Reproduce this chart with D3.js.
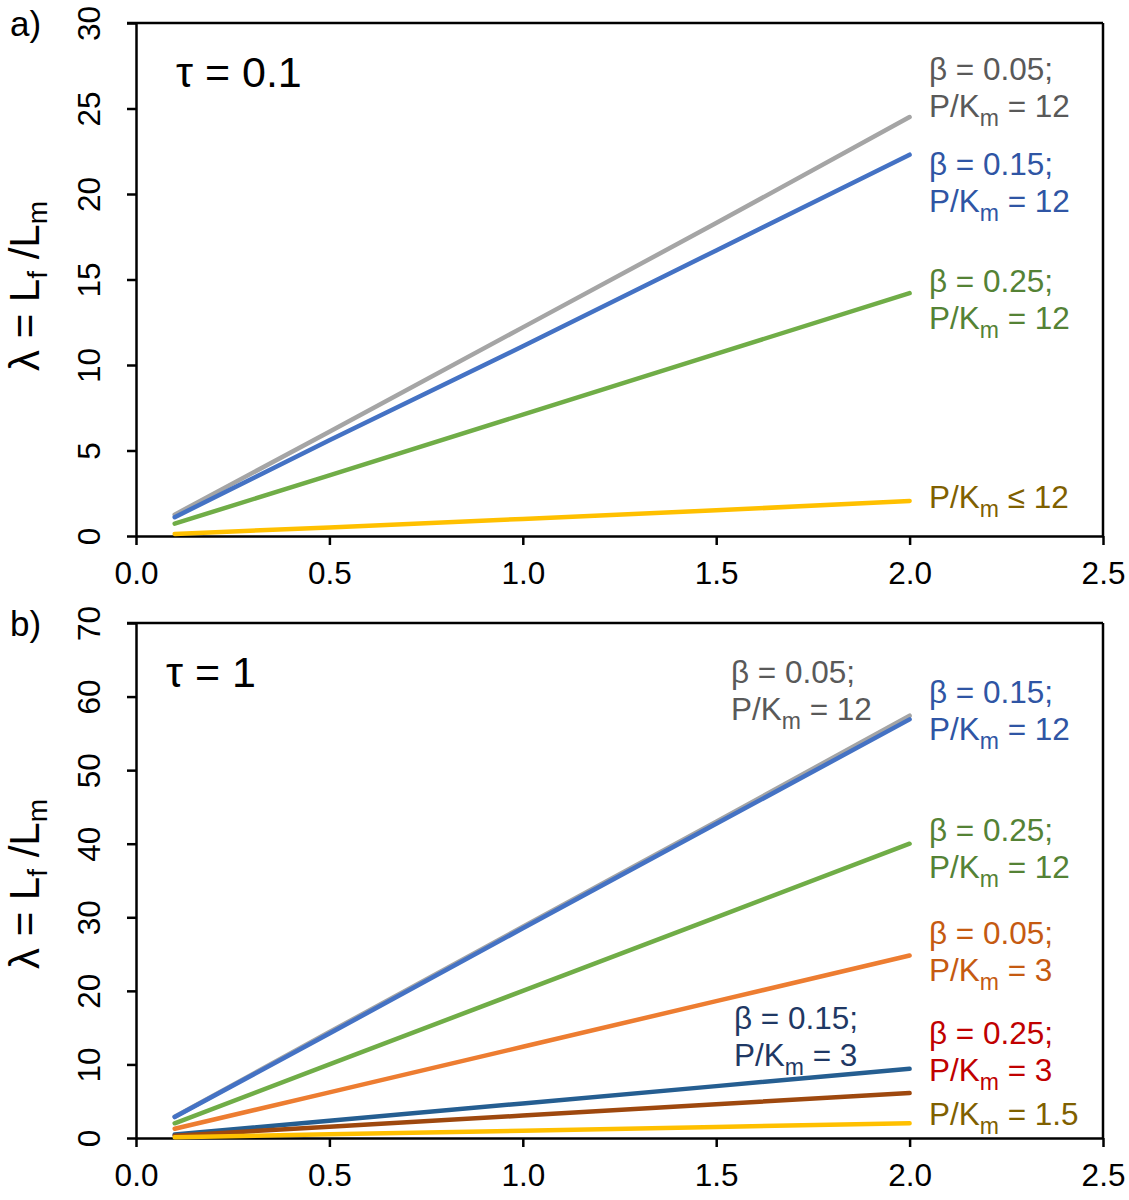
<!DOCTYPE html>
<html><head><meta charset="utf-8">
<script src="https://cdn.jsdelivr.net/npm/d3@7"></script>
<style>body{margin:0;background:#fff}svg{display:block;font-family:"Liberation Sans",Arial,sans-serif}</style>
</head><body><svg id="c" width="1129" height="1200"></svg>
<script>
// ---- data ----
const xTicks = [0.0, 0.5, 1.0, 1.5, 2.0, 2.5];
const xs = [0.1, 0.5, 1.0, 1.5, 2.0];
const yTicksA = [0, 5, 10, 15, 20, 25, 30];
const yTicksB = [0, 10, 20, 30, 40, 50, 60, 70];
// panel a (tau = 0.1)
const a_b005_pk12 = [1.25, 6.1, 12.2, 18.3, 24.5];
const a_b015_pk12 = [1.1, 5.6, 11.1, 16.7, 22.3];
const a_b025_pk12 = [0.72, 3.55, 7.1, 10.65, 14.2];
const a_pk_le12   = [0.12, 0.5, 1.0, 1.5, 2.05];
// panel b (tau = 1)
const b_b005_pk12 = [2.9, 14.4, 28.7, 43.0, 57.4];
const b_b015_pk12 = [2.85, 14.2, 28.5, 42.7, 56.9];
const b_b025_pk12 = [2.0, 10.0, 20.0, 30.0, 40.0];
const b_b005_pk3  = [1.25, 6.2, 12.4, 18.6, 24.8];
const b_b015_pk3  = [0.47, 2.35, 4.7, 7.05, 9.4];
const b_b025_pk3  = [0.31, 1.53, 3.05, 4.6, 6.1];
const b_pk15      = [0.1, 0.5, 1.0, 1.5, 2.0];

const svg = d3.select("#c");
const X0 = 136, X1 = 1103;
const x = d3.scaleLinear().domain([0, 2.5]).range([X0, X1]);
const FONT = "Liberation Sans, Arial, sans-serif";

function addRich(t, parts, subSize, subDy) {
  let down = false;
  parts.forEach(part => {
    if (typeof part === "string") {
      const s = t.append("tspan").text(part);
      if (down) { s.attr("dy", -subDy); down = false; }
    } else {
      t.append("tspan").attr("font-size", subSize).attr("dy", subDy).text(part.sub);
      down = true;
    }
  });
}

function panel(o) {
  const y = d3.scaleLinear().domain(o.ydom).range([o.bottom, o.top]);
  const g = svg.append("g");
  g.append("line").attr("x1", X0 - 9).attr("x2", X1).attr("y1", o.top).attr("y2", o.top)
    .attr("stroke", "#000").attr("stroke-width", 2.5);
  g.append("line").attr("x1", X1).attr("x2", X1).attr("y1", o.top).attr("y2", o.bottom)
    .attr("stroke", "#000").attr("stroke-width", 2.5);
  const xa = g.append("g").attr("transform", `translate(0,${o.bottom})`)
    .call(d3.axisBottom(x).tickValues(xTicks).tickFormat(d3.format(".1f")).tickSize(9).tickSizeOuter(0));
  xa.select(".domain").attr("stroke-width", 2.5);
  xa.selectAll(".tick line").attr("stroke-width", 2.5);
  xa.selectAll(".tick text").attr("y", 37).attr("dy", "0.36em").attr("font-size", 31.5)
    .attr("fill", "#000").attr("font-family", FONT);
  const ya = g.append("g").attr("transform", `translate(${X0},0)`)
    .call(d3.axisLeft(y).tickValues(o.yticks).tickSize(9).tickSizeOuter(0));
  ya.select(".domain").attr("stroke-width", 2.5);
  ya.selectAll(".tick line").attr("stroke-width", 2.5);
  ya.selectAll(".tick text").attr("x", null).attr("dy", null)
    .attr("transform", "translate(-36,0) rotate(-90)")
    .attr("text-anchor", "middle").attr("font-size", 31.5).attr("fill", "#000")
    .attr("font-family", FONT);
  const line = d3.line().x((d, i) => x(xs[i])).y(d => y(d));
  o.series.forEach(s => {
    g.append("path").datum(s.v).attr("d", line).attr("fill", "none")
      .attr("stroke", s.c).attr("stroke-width", 4.5).attr("stroke-linecap", "round");
  });
  o.labels.forEach(l => {
    l.lines.forEach((ln, k) => {
      const t = g.append("text").attr("x", l.x).attr("y", l.y + k * 37)
        .attr("font-size", 31.5).attr("fill", l.c);
      addRich(t, ln, 23, 9);
    });
  });
  g.append("text").attr("x", o.tauX).attr("y", o.top + 64).attr("font-size", 43).text(o.tau);
  g.append("text").attr("x", 10).attr("y", o.top + 13).attr("font-size", 35).text(o.letter);
  const yt = g.append("text").attr("transform", `translate(39,${o.titleY}) rotate(-90)`)
    .attr("text-anchor", "middle").attr("font-size", 42);
  addRich(yt, ["λ = L", { sub: "f" }, " /L", { sub: "m" }], 28, 8);
}

const GRAY = "#A5A5A5", BLUE = "#4472C4", GREEN = "#70AD47", YEL = "#FFC000",
      ORA = "#ED7D31", NAVY = "#255E91", BROWN = "#9E480E";

panel({
  top: 23, bottom: 536, ydom: [0, 30], yticks: yTicksA, tau: "τ = 0.1", tauX: 176, letter: "a)", titleY: 286,
  series: [
    { v: a_b005_pk12, c: GRAY }, { v: a_b015_pk12, c: BLUE },
    { v: a_b025_pk12, c: GREEN }, { v: a_pk_le12, c: YEL }],
  labels: [
    { x: 929, y: 80, c: "#595959", lines: [["β = 0.05;"], ["P/K", { sub: "m" }, " = 12"]] },
    { x: 929, y: 175, c: "#2F55A4", lines: [["β = 0.15;"], ["P/K", { sub: "m" }, " = 12"]] },
    { x: 929, y: 292, c: "#548235", lines: [["β = 0.25;"], ["P/K", { sub: "m" }, " = 12"]] },
    { x: 929, y: 508, c: "#7F6000", lines: [["P/K", { sub: "m" }, " ≤ 12"]] }]
});

panel({
  top: 623, bottom: 1138, ydom: [0, 70], yticks: yTicksB, tau: "τ = 1", tauX: 166, letter: "b)", titleY: 884,
  series: [
    { v: b_b005_pk12, c: GRAY }, { v: b_b015_pk12, c: BLUE },
    { v: b_b025_pk12, c: GREEN }, { v: b_b005_pk3, c: ORA },
    { v: b_b015_pk3, c: NAVY }, { v: b_b025_pk3, c: BROWN }, { v: b_pk15, c: YEL }],
  labels: [
    { x: 731, y: 683, c: "#595959", lines: [["β = 0.05;"], ["P/K", { sub: "m" }, " = 12"]] },
    { x: 929, y: 703, c: "#2F55A4", lines: [["β = 0.15;"], ["P/K", { sub: "m" }, " = 12"]] },
    { x: 929, y: 841, c: "#548235", lines: [["β = 0.25;"], ["P/K", { sub: "m" }, " = 12"]] },
    { x: 929, y: 944, c: "#C55A11", lines: [["β = 0.05;"], ["P/K", { sub: "m" }, " = 3"]] },
    { x: 734, y: 1029, c: "#1F3864", lines: [["β = 0.15;"], ["P/K", { sub: "m" }, " = 3"]] },
    { x: 929, y: 1044, c: "#C00000", lines: [["β = 0.25;"], ["P/K", { sub: "m" }, " = 3"]] },
    { x: 929, y: 1125, c: "#7F6000", lines: [["P/K", { sub: "m" }, " = 1.5"]] }]
});
</script></body></html>
